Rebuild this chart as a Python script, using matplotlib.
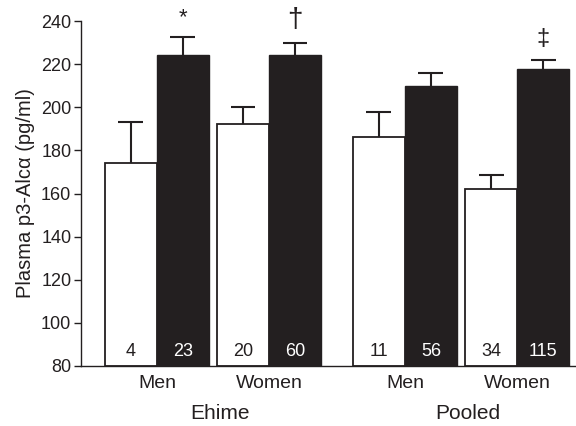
import matplotlib
matplotlib.use("Agg")
import matplotlib.pyplot as plt
import numpy as np

plt.rcParams['font.family'] = ['Liberation Sans', 'DejaVu Sans']

# Data
groups = ["Ehime", "Pooled"]
sexes = ["Men", "Women", "Men", "Women"]
white_vals = [174.3, 192.1, 186.2, 162.0]
white_err = [18.7, 7.9, 11.6, 6.7]
black_vals = [224.2, 224.2, 210.0, 217.7]
black_err = [8.5, 5.6, 6.0, 4.2]
white_n = ["4", "20", "11", "34"]
black_n = ["23", "60", "56", "115"]
marks = ["*", "\u2020", "", "\u2021"]
yticks = [80, 100, 120, 140, 160, 180, 200, 220, 240]

dark = "#231f20"

fig = plt.figure(figsize=(5.76, 4.26), dpi=100)
ax = fig.add_axes([81/576, 1 - 366/426, 495/576, 345/426])

# layout: pair centers (white/black boundary)
pair_x = np.array([1.46, 3.615, 6.23, 8.385])
bw = 1.0
wx = pair_x - bw/2
bx = pair_x + bw/2
base = 80

ax.bar(wx, np.array(white_vals) - base, bottom=base, width=bw, color="white",
       edgecolor=dark, linewidth=1.3, zorder=2)
ax.bar(bx, np.array(black_vals) - base, bottom=base, width=bw, color=dark,
       edgecolor=dark, linewidth=1.0, zorder=2)

for x, v, e in list(zip(wx, white_vals, white_err)) + list(zip(bx, black_vals, black_err)):
    ax.plot([x, x], [v, v + e], color=dark, lw=1.5, zorder=3, solid_capstyle='butt')
    ax.plot([x - 0.24, x + 0.24], [v + e, v + e], color=dark, lw=1.5, zorder=3,
            solid_capstyle='butt')

for x, n in zip(wx, white_n):
    ax.text(x, 86.8, n, ha="center", va="center", fontsize=13, color=dark)
for x, n in zip(bx, black_n):
    ax.text(x, 86.8, n, ha="center", va="center", fontsize=13, color="white")

mark_y = [240 - (13 - 21) / 2.156 - 2, 240 - (20 - 21) / 2.156, None, 240 - (39 - 21) / 2.156]
mark_size = [16, 20, 16, 17]
for x, m, yy, fs in zip(bx, marks, mark_y, mark_size):
    if m:
        ax.text(x, yy, m, ha="center", va="center", fontsize=fs, color=dark, clip_on=False)

ax.set_xlim(0, 495/52)
ax.set_ylim(80, 240)
ax.set_yticks(yticks)
ax.set_xticks([])
ax.tick_params(axis="y", direction="out", length=5, width=1, labelsize=13, colors=dark, pad=2)
for s in ["top", "right"]:
    ax.spines[s].set_visible(False)
for s in ["left", "bottom"]:
    ax.spines[s].set_color(dark)
    ax.spines[s].set_linewidth(1.0)

ax.set_ylabel("Plasma p3-Alc\u03b1 (pg/ml)", fontsize=14.5, color=dark, labelpad=4)

for x, s in zip(pair_x, sexes):
    ax.text(x, -0.05, s, transform=ax.get_xaxis_transform(), ha="center", va="center",
            fontsize=14, color=dark)
group_x = [(pair_x[0] + pair_x[1]) / 2 + 0.13, (pair_x[2] + pair_x[3]) / 2 + 0.13]
for x, g in zip(group_x, groups):
    ax.text(x, -0.137, g, transform=ax.get_xaxis_transform(), ha="center", va="center",
            fontsize=15, color=dark)

fig.savefig("out.png", dpi=100)
